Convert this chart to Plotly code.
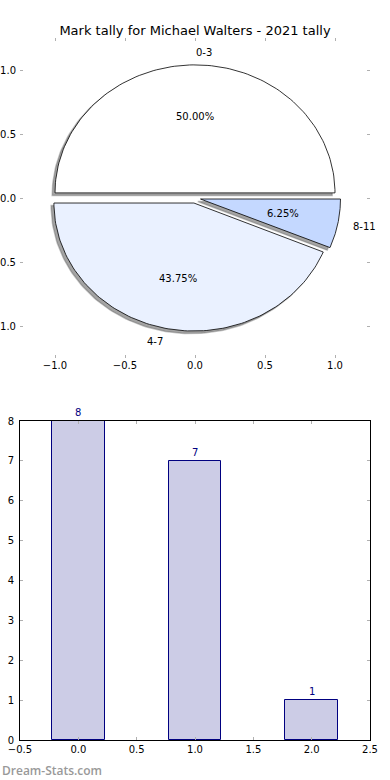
import numpy as np
import plotly.graph_objects as go

# ---------------- data ----------------
title_text = "Mark tally for Michael Walters - 2021 tally"
slice_labels = ["0-3", "4-7", "8-11"]
slice_counts = [8, 7, 1]
slice_explode = [0.04, 0.04, 0.04]
slice_colors = ["#FFFFFF", "#EAF1FF", "#C4D8FF"]

bar_positions = [0, 1, 2]
bar_values = [8, 7, 1]
bar_width = 0.45

pie_ticks = [-1.0, -0.5, 0.0, 0.5, 1.0]
bar_xticks = [-0.5, 0.0, 0.5, 1.0, 1.5, 2.0, 2.5]
bar_yticks = [0, 1, 2, 3, 4, 5, 6, 7, 8]

FONT = "DejaVu Sans"
W, H = 390, 780

fig = go.Figure()

# ---------------- pie (matplotlib-style wedges) ----------------
total = float(sum(slice_counts))
fracs = [c / total for c in slice_counts]
cum = np.concatenate([[0.0], np.cumsum(fracs)])

wedges = []
for i, f in enumerate(fracs):
    t1, t2 = 2 * np.pi * cum[i], 2 * np.pi * cum[i + 1]
    mid = 0.5 * (t1 + t2)
    cx, cy = slice_explode[i] * np.cos(mid), slice_explode[i] * np.sin(mid)
    th = np.linspace(t1, t2, 120)
    xs = np.concatenate([[cx], cx + np.cos(th), [cx]])
    ys = np.concatenate([[cy], cy + np.sin(th), [cy]])
    wedges.append((xs, ys, cx, cy, mid))

# shadows
for xs, ys, cx, cy, mid in wedges:
    fig.add_trace(go.Scatter(x=xs - 0.02, y=ys - 0.02, mode="lines", fill="toself",
                             fillcolor="rgba(90,90,90,0.55)",
                             line=dict(color="rgba(90,90,90,0.35)", width=1.5),
                             hoverinfo="skip", showlegend=False, xaxis="x", yaxis="y"))
# wedges
for i, (xs, ys, cx, cy, mid) in enumerate(wedges):
    fig.add_trace(go.Scatter(x=xs, y=ys, mode="lines", fill="toself",
                             fillcolor=slice_colors[i],
                             line=dict(color="black", width=0.8),
                             name=slice_labels[i], showlegend=False,
                             xaxis="x", yaxis="y"))

annotations = []
for i, (xs, ys, cx, cy, mid) in enumerate(wedges):
    lx = cx + 1.1 * np.cos(mid)
    ly = cy + 1.1 * np.sin(mid)
    annotations.append(dict(x=lx, y=ly, xref="x", yref="y", text=slice_labels[i],
                            showarrow=False, xanchor="left" if lx >= 0 else "right",
                            yanchor="middle", borderpad=0,
                            font=dict(family=FONT, size=10, color="black")))
    px = cx + 0.6 * np.cos(mid)
    py = cy + 0.6 * np.sin(mid)
    annotations.append(dict(x=px, y=py, xref="x", yref="y",
                            text="%.2f%%" % (100 * fracs[i]),
                            showarrow=False, xanchor="center", yanchor="middle",
                            font=dict(family=FONT, size=10, color="black")))

# ---------------- bars ----------------
fig.add_trace(go.Bar(x=bar_positions, y=bar_values, width=bar_width,
                     marker=dict(color="rgba(0,0,128,0.2)",
                                 line=dict(color="navy", width=1)),
                     showlegend=False, xaxis="x2", yaxis="y2"))
for xv, yv in zip(bar_positions, bar_values):
    annotations.append(dict(x=xv, y=yv, xref="x2", yref="y2", text=str(yv),
                            showarrow=False, xanchor="center", yanchor="bottom",
                            yshift=1, font=dict(family=FONT, size=10, color="navy")))

annotations.append(dict(x=0, y=1 - 770 / H, xref="paper", yref="paper",
                        text="Dream-Stats.com", showarrow=False,
                        xanchor="left", yanchor="middle",
                        font=dict(family="Open Sans", size=12, color="#999999",
                                  weight=600)))

tick_common = dict(ticks="inside", ticklen=3, tickcolor="#B0B0B0", tickwidth=1,
                   showgrid=False, zeroline=False, automargin=False,
                   tickfont=dict(family=FONT, size=10, color="black"))

fig.update_layout(
    width=W, height=H,
    margin=dict(l=0, r=0, t=0, b=0),
    paper_bgcolor="white", plot_bgcolor="white",
    title=dict(text=title_text, x=0.5, xanchor="center", y=1 - 30 / H,
               yanchor="middle", font=dict(family=FONT, size=13, color="black")),
    xaxis=dict(domain=[20 / W, 370 / W], range=[-1.25, 1.25], anchor="y",
               tickvals=pie_ticks, tickformat=".1f", showline=False,
               mirror="ticks", **tick_common),
    yaxis=dict(domain=[1 - 358 / H, 1 - 38 / H], range=[-1.25, 1.25], anchor="x",
               tickvals=pie_ticks, tickformat=".1f", showline=False,
               mirror="ticks", ticklabelstandoff=3, **tick_common),
    xaxis2=dict(domain=[20 / W, 370 / W], range=[-0.5, 2.5], anchor="y2",
                tickvals=bar_xticks, tickformat=".1f", showline=True,
                linecolor="black", linewidth=1, mirror="ticks", **tick_common),
    yaxis2=dict(domain=[1 - 740 / H, 1 - 421 / H], range=[0, 8], anchor="x2",
                tickvals=bar_yticks, showline=True,
                linecolor="black", linewidth=1, mirror="ticks",
                ticklabelstandoff=3, **tick_common),
    annotations=annotations,
    bargap=0,
)

fig.write_html("out.html",
               config={"displayModeBar": False},
               post_script="document.body.style.margin='0px';"
                           "document.body.style.overflow='hidden';")
